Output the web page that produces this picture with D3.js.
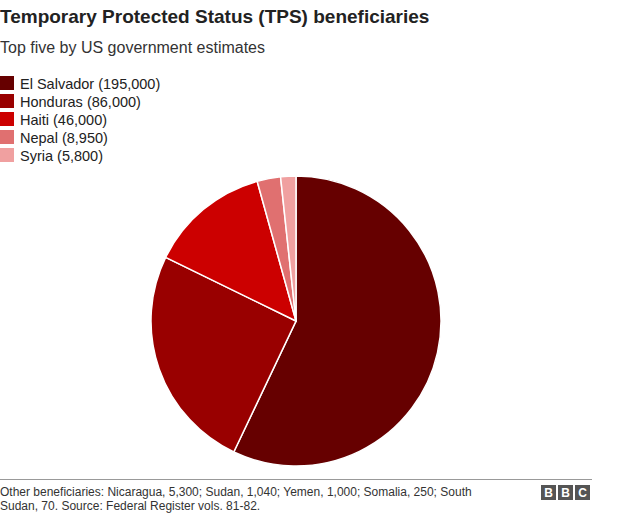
<!DOCTYPE html><html><head><script src="https://d3js.org/d3.v7.min.js"></script>
<style>body{margin:0;background:#fff}</style></head><body><script>
const categories=["El Salvador","Honduras","Haiti","Nepal","Syria"];
const values=[195000,86000,46000,8950,5800];
const labels=["El Salvador (195,000)","Honduras (86,000)","Haiti (46,000)","Nepal (8,950)","Syria (5,800)"];
const colors=["#660000","#990000","#cc0000","#e07070","#f0a0a0"];
const W=624,H=516;
const svg=d3.select("body").append("svg").attr("width",W).attr("height",H).style("font-family","Arial, Liberation Sans, sans-serif");
svg.append("text").attr("x",0).attr("y",23).attr("font-size",19).attr("font-weight","bold").attr("fill","#222").text("Temporary Protected Status (TPS) beneficiaries");
svg.append("text").attr("x",0).attr("y",53).attr("font-size",16).attr("fill","#333").text("Top five by US government estimates");
const lg=svg.append("g");
categories.forEach((c,i)=>{const y=74+i*18;
lg.append("rect").attr("x",0).attr("y",y+2).attr("width",14).attr("height",14).attr("fill",colors[i]);
lg.append("text").attr("x",20).attr("y",y+14.5).attr("font-size",14.5).attr("fill","#222").text(labels[i]);});
const pie=d3.pie().sort(null).value(d=>d)(values);
const arc=d3.arc().innerRadius(0).outerRadius(145);
svg.append("g").attr("transform","translate(296,321)").selectAll("path").data(pie).join("path")
.attr("d",arc).attr("fill",(d,i)=>colors[i]).attr("stroke","#fff").attr("stroke-width",1.5);
svg.append("line").attr("x1",0).attr("x2",592).attr("y1",479.5).attr("y2",479.5).attr("stroke","#999");
const f=svg.append("g").attr("font-size",12).attr("fill","#333");
f.append("text").attr("x",0).attr("y",496).text("Other beneficiaries: Nicaragua, 5,300; Sudan, 1,040; Yemen, 1,000; Somalia, 250; South");
f.append("text").attr("x",0).attr("y",510).text("Sudan, 70. Source: Federal Register vols. 81-82.");
["B","B","C"].forEach((l,i)=>{const x=541+i*17;
svg.append("rect").attr("x",x).attr("y",485).attr("width",15).attr("height",15).attr("fill","#555");
svg.append("text").attr("x",x+7.5).attr("y",497).attr("text-anchor","middle").attr("font-size",12).attr("font-weight","bold").attr("fill","#fff").text(l);});
</script></body></html>
